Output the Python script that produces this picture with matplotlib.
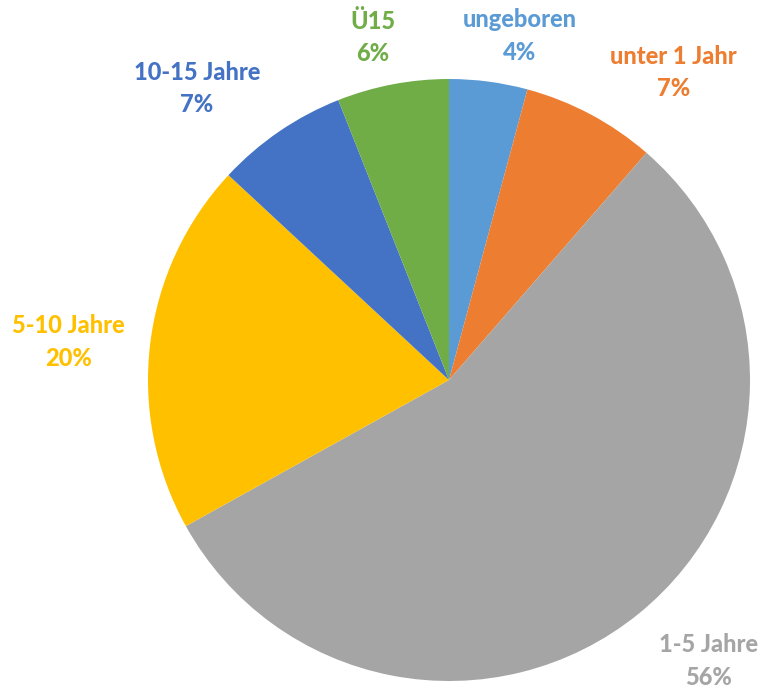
import numpy as np
from matplotlib import pyplot as plt

# Altersverteilung (Anteile in %)
categories = ['ungeboren', 'unter 1 Jahr', '1-5 Jahre', '5-10 Jahre', '10-15 Jahre', 'Ü15']
shares = [4.2, 7.2, 55.6, 20.0, 7.1, 6.0]
colors = ['#5B9BD5', '#ED7D31', '#A5A5A5', '#FFC000', '#4472C4', '#70AD47']

# label placement: angular shift (deg, clockwise) and distance from centre
label_shift = [4.0, 8.1, -3.7, -1.2, -6.5, -1.8]
label_dist = [1.166, 1.266, 1.27, 1.27, 1.28, 1.166]

plt.rcParams['font.family'] = ['Lato', 'DejaVu Sans']

fig = plt.figure(figsize=(7.62, 6.92), dpi=100)
cx, cy, r = 449 / 762, (692 - 380) / 692, 301
ax = fig.add_axes([cx - r / 762, cy - r / 692, 2 * r / 762, 2 * r / 692])

wedges, _ = ax.pie(shares, colors=colors, startangle=90, counterclock=False,
                   wedgeprops=dict(linewidth=0))
ax.set_xlim(-1, 1)
ax.set_ylim(-1, 1)
ax.set_aspect('equal')
ax.axis('off')

total = sum(shares)
for w, name, val, col, shift, dist in zip(wedges, categories, shares, colors,
                                          label_shift, label_dist):
    mid = np.deg2rad((w.theta1 + w.theta2) / 2 - shift)
    x, y = dist * np.cos(mid), dist * np.sin(mid)
    ax.text(x, y, f'{name}\n{round(val / total * 100)}%', color=col,
            fontsize=17, fontweight='black', ha='center', va='center',
            linespacing=1.5)

fig.savefig('out.png', dpi=100)
